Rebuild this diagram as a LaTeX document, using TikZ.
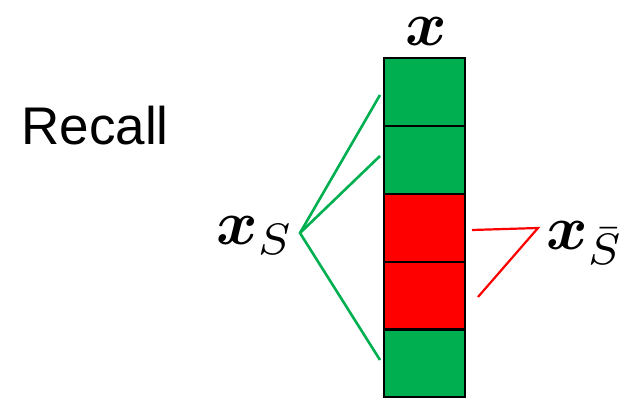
\documentclass[tikz,border=0pt]{standalone}
\usepackage{amsmath}
\usepackage{bm}
\usepackage{graphicx}
\usepackage{fontspec}
\setsansfont{Liberation Sans}
\definecolor{offgreen}{HTML}{00B050}
\definecolor{offred}{HTML}{FF0000}
\newcommand{\bigmath}[1]{\scalebox{6.3}{$#1$}}
\begin{document}
\begin{tikzpicture}[x=1pt,y=-1pt,
  cell/.style={draw=black, line width=2.2pt, minimum width=81pt, minimum height=68pt, inner sep=0pt, outer sep=0pt},
  gcell/.style={cell, fill=offgreen},
  rcell/.style={cell, fill=offred},
  gline/.style={draw=offgreen, line width=2.6pt},
  rline/.style={draw=offred, line width=2.2pt},
  mlab/.style={inner sep=0pt, font=\fontsize{10}{12}\selectfont}]
\useasboundingbox (0,0) rectangle (625,398);
\node[gcell] (c1) at (424.5,92) {};
\node[gcell] (c2) at (424.5,160) {};
\node[rcell] (c3) at (424.5,228) {};
\node[rcell] (c4) at (424.5,296) {};
\node[gcell] (c5) at (424.5,363.5) {};
\node[mlab, anchor=base] (x) at (426,46) {\bigmath{\bm{x}}};
\node[inner sep=0pt, font=\sffamily\fontsize{53}{60}\selectfont] (recall) at (95,126) {Recall};
\node[mlab, anchor=base west] (xs) at (216,245) {\bigmath{\bm{x}_{S}}};
\node[mlab, anchor=base west] (xsb) at (546,250) {\bigmath{\bm{x}_{\bar{S}}}};
\coordinate (gv) at (300,233);
\coordinate (g1) at (380,95);
\coordinate (g2) at (380,156);
\coordinate (g3) at (380,360);
\coordinate (rv) at (538,228);
\coordinate (r1) at (472,230);
\coordinate (r2) at (478,297);
\draw[gline] (g1) -- (gv) -- (g3);
\draw[gline] (gv) -- (g2);
\draw[rline, line join=miter] (r1) -- (rv) -- (r2);
\end{tikzpicture}
\end{document}
